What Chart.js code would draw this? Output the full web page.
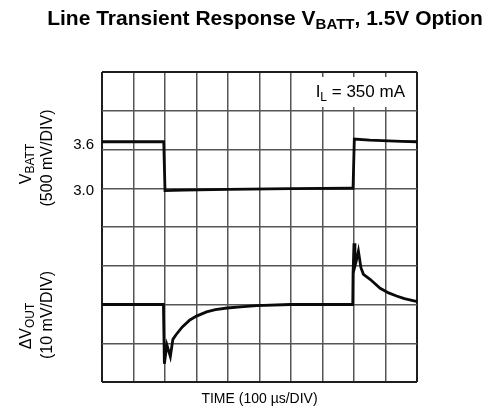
<!DOCTYPE html>
<html>
<head>
<meta charset="utf-8">
<script src="https://cdn.jsdelivr.net/npm/chart.js@4.4.0/dist/chart.umd.min.js"></script>
<style>
  html, body { margin: 0; padding: 0; background: #fff; }
  #wrap { width: 499px; height: 410px; position: relative; }
</style>
</head>
<body>
<div id="wrap"><canvas id="transientChart"></canvas></div>
<script>
// time axis in microseconds (100 us per division, 10 divisions)
const vbattTime = [0, 196, 200, 260, 400, 600, 790, 797, 801, 850, 950, 1000];
const vbatt     = [3.60, 3.60, 2.97, 2.975, 2.985, 2.995, 3.00, 3.00, 3.635, 3.62, 3.605, 3.60];

const voutTime = [0, 195, 198, 206, 217, 225, 235, 255, 279, 300, 332, 360, 397, 440, 491, 597, 700,
                  796, 797, 800, 803, 808, 814, 822, 830, 851, 883, 910, 935, 960, 994, 1000];
const dVout    = [0, 0, -15.3, -10.4, -13.4, -9, -7.8, -5.8, -4.0, -3.0, -1.9, -1.3, -0.9, -0.6, -0.3, 0, 0,
                  0, 8, 15.8, 9.9, 11.5, 13.8, 9.5, 7.8, 6.5, 4.2, 3.0, 2.2, 1.5, 0.9, 0.8];

const vbattTicks = [3.0, 3.6];
const timeTitle = 'TIME (100 \u00b5s/DIV)';

const gridColor = '#555';
const edgeColor = '#1e1e1e';

function edgeWidth(ctx) {
    return (ctx.index === 0 || ctx.index === ctx.scale.ticks.length - 1) ? 2 : 1.5;
}
function edgeStroke(ctx) {
    return (ctx.index === 0 || ctx.index === ctx.scale.ticks.length - 1) ? edgeColor : gridColor;
}

// draws text pieces one after another, some of them as subscripts
function drawRuns(ctx, runs, x, y, align) {
    let total = 0;
    runs.forEach(r => { ctx.font = r.font; total += ctx.measureText(r.text).width; });
    let cx = align === 'center' ? x - total / 2 : (align === 'right' ? x - total : x);
    runs.forEach(r => {
        ctx.font = r.font;
        ctx.fillText(r.text, cx, y + (r.dy || 0));
        cx += ctx.measureText(r.text).width;
    });
}

const scopeLabels = {
    id: 'scopeLabels',
    beforeDatasetsDraw(chart) {
        const {ctx, chartArea: area} = chart;
        ctx.save();
        ctx.fillStyle = '#fff';
        ctx.fillRect(area.right - 122, area.top + 5, 120, 30);
        ctx.restore();
    },
    afterDraw(chart) {
        const {ctx, chartArea: area} = chart;
        ctx.save();
        ctx.fillStyle = '#000';
        ctx.textBaseline = 'alphabetic';

        drawRuns(ctx, [
            {text: 'Line Transient Response V', font: 'bold 21px Arial'},
            {text: 'BATT', font: 'bold 15px Arial', dy: 4},
            {text: ', 1.5V Option', font: 'bold 21px Arial'}
        ], 265, 25, 'center');

        drawRuns(ctx, [
            {text: 'I', font: '17px Arial'},
            {text: 'L', font: '12px Arial', dy: 4},
            {text: ' = 350 mA', font: '17px Arial'}
        ], area.right - 12, area.top + 25, 'right');

        const side = [
            [[{text: 'V', font: '16px Arial'}, {text: 'BATT', font: '12px Arial', dy: 3}], 31, 164],
            [[{text: '(500 mV/DIV)', font: '16px Arial'}], 52, 158],
            [[{text: '\u0394V', font: '16px Arial'}, {text: 'OUT', font: '12px Arial', dy: 3}], 31, 326],
            [[{text: '(10 mV/DIV)', font: '16px Arial'}], 52, 315]
        ];
        side.forEach(([runs, x, y]) => {
            ctx.save();
            ctx.translate(x, y);
            ctx.rotate(-Math.PI / 2);
            drawRuns(ctx, runs, 0, 0, 'center');
            ctx.restore();
        });
        ctx.restore();
    }
};

new Chart(document.getElementById('transientChart'), {
    type: 'line',
    data: {
        datasets: [{
            label: 'VBATT',
            data: vbattTime.map((t, i) => ({x: t, y: vbatt[i]})),
            yAxisID: 'yv',
            borderColor: '#0a0a0a',
            borderWidth: 2.8,
            pointRadius: 0,
            tension: 0
        }, {
            label: '\u0394VOUT',
            data: voutTime.map((t, i) => ({x: t, y: dVout[i]})),
            yAxisID: 'yd',
            borderColor: '#0a0a0a',
            borderWidth: 2.8,
            pointRadius: 0,
            tension: 0
        }]
    },
    options: {
        responsive: true,
        maintainAspectRatio: false,
        animation: false,
        layout: { padding: { top: 72, right: 82, left: 0, bottom: 0 } },
        plugins: {
            legend: { display: false },
            tooltip: { enabled: false }
        },
        scales: {
            x: {
                type: 'linear',
                min: 0,
                max: 1000,
                ticks: { display: false, stepSize: 100 },
                grid: { color: edgeStroke, lineWidth: edgeWidth, drawTicks: false },
                border: { display: false },
                title: {
                    display: true,
                    text: timeTitle,
                    color: '#000',
                    font: { family: 'Arial', size: 14 },
                    padding: { top: 0, bottom: 2 }
                },
                afterFit(scale) { scale.height = 28; }
            },
            yv: {
                type: 'linear',
                position: 'left',
                min: 0.5,
                max: 4.5,
                afterBuildTicks(scale) { scale.ticks = vbattTicks.map(v => ({value: v})); },
                ticks: {
                    color: '#000',
                    font: { family: 'Arial', size: 15 },
                    padding: 8,
                    labelOffset: 3,
                    callback: v => v.toFixed(1)
                },
                grid: { display: false, drawTicks: false },
                border: { display: false },
                afterFit(scale) { scale.width = 102; }
            },
            yd: {
                type: 'linear',
                position: 'right',
                min: -20,
                max: 60,
                ticks: { display: false, stepSize: 10 },
                grid: { color: edgeStroke, lineWidth: edgeWidth, drawTicks: false },
                border: { display: false },
                afterFit(scale) { scale.width = 0; }
            }
        }
    },
    plugins: [scopeLabels]
});
</script>
</body>
</html>
